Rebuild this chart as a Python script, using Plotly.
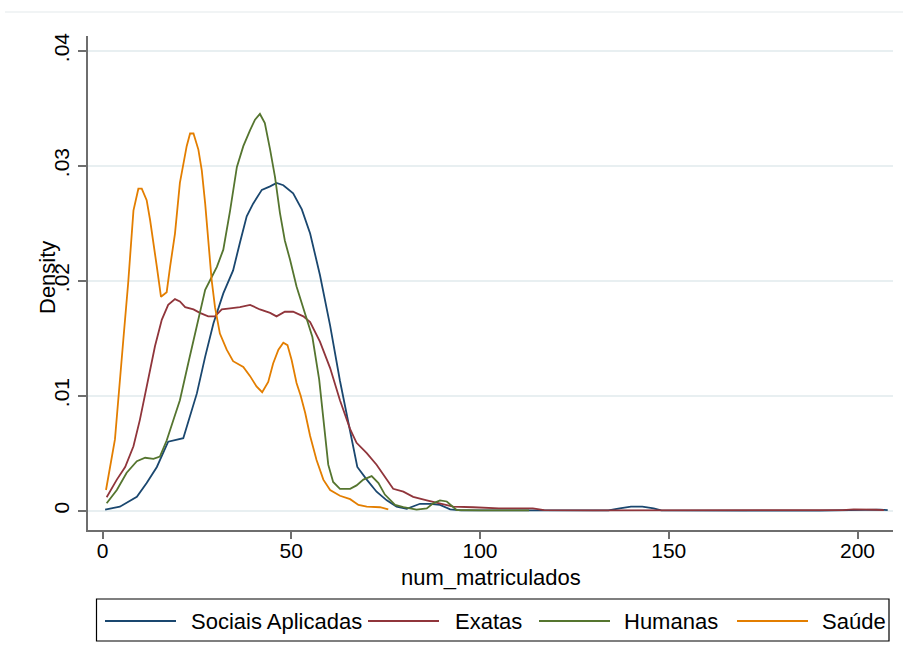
import plotly.graph_objects as go

# ---------------- data ----------------
series_names = ["Sociais Aplicadas", "Exatas", "Humanas", "Saúde"]
series_colors = ["#1a476f", "#90353b", "#55752f", "#e37e00"]

sociais_x = [0.7, 4.6, 9.1, 11.7, 14.4, 17.4, 21.4, 23.2, 25.0, 27.2, 29.4, 32.0, 34.6, 36.4,
             38.2, 39.9, 42.2, 44.4, 46.1, 47.9, 50.5, 52.8, 55.0, 57.6, 60.3, 62.9, 65.6, 67.5,
             70.0, 72.6, 75.3, 77.9, 80.6, 82.5, 84.1, 86.8, 89.4, 92.1, 95, 100, 110, 120, 130,
             134, 137, 140, 143, 146, 148, 155, 170, 190, 198, 200, 203, 206, 208]
sociais_y = [0.0001, 0.00035, 0.0012, 0.0024, 0.0038, 0.0060, 0.0063, 0.0082, 0.0102, 0.0134,
             0.0163, 0.0189, 0.0209, 0.0233, 0.0256, 0.0267, 0.0279, 0.0282, 0.0285, 0.0283,
             0.0276, 0.0262, 0.0241, 0.0205, 0.0161, 0.0113, 0.0070, 0.0038, 0.0027, 0.00165,
             0.0009, 0.00035, 0.00017, 0.0004, 0.0006, 0.0006, 0.0005, 0.00012, 0.00003, 0.00002,
             0.00002, 0.00001, 0.00001, 0.00002, 0.0002, 0.00035, 0.00035, 0.0002, 0.00003,
             0.00001, 0.00001, 0.00001, 0.00005, 0.0001, 0.00012, 0.0001, 0.00005]

exatas_x = [1.1, 3.8, 6.0, 8.2, 9.9, 11.7, 13.9, 15.7, 17.4, 19.2, 20.5, 21.9, 24.1, 25.8, 28.0,
            29.8, 31.6, 33.8, 36.4, 39.1, 41.7, 44.4, 46.1, 48.3, 50.5, 53.2, 55.0, 57.6, 60.3,
            62.9, 65.6, 67.3, 70.0, 72.6, 75.3, 77.0, 79.7, 82.3, 85.9, 89.4, 92.9, 98.2, 105,
            114, 117, 130, 150, 180, 196, 199, 202, 205, 207]
exatas_y = [0.00117, 0.0027, 0.0038, 0.0056, 0.0079, 0.0108, 0.0143, 0.0166, 0.0179, 0.0184,
            0.0182, 0.0177, 0.0175, 0.0172, 0.0169, 0.0169, 0.0175, 0.0176, 0.0177, 0.0179,
            0.0175, 0.0172, 0.0169, 0.0173, 0.0173, 0.0169, 0.0164, 0.0147, 0.0124, 0.0096,
            0.0071, 0.0059, 0.0050, 0.0040, 0.0027, 0.0019, 0.00165, 0.0012, 0.0009, 0.00064,
            0.00035, 0.0003, 0.0002, 0.0002, 0.00005, 0.00002, 0.00002, 0.00002, 0.00005,
            0.00012, 0.00012, 0.00008, 0.00005]

humanas_x = [1.1, 3.8, 6.4, 9.1, 11.3, 13.5, 15.2, 17.0, 18.8, 20.5, 22.7, 24.5, 25.8, 27.2,
             28.9, 30.3, 32.0, 33.8, 35.6, 37.3, 39.1, 40.4, 41.7, 43.0, 44.4, 45.7, 47.0, 48.3,
             49.7, 51.4, 53.6, 55.6, 57.4, 58.6, 59.8, 61.1, 62.9, 65.6, 67.3, 69.1, 71.3, 73.1,
             74.8, 77.5, 79.7, 83.2, 85.9, 87.6, 89.4, 91.2, 92.9, 93.8, 100, 110, 113]
humanas_y = [0.00064, 0.0018, 0.0033, 0.0043, 0.0046, 0.0045, 0.0047, 0.0061, 0.0079, 0.0096,
             0.0128, 0.0154, 0.0172, 0.0192, 0.0203, 0.0212, 0.0227, 0.0261, 0.0299, 0.0317,
             0.0331, 0.0340, 0.0345, 0.0337, 0.0314, 0.0290, 0.0259, 0.0235, 0.0218, 0.0195,
             0.0172, 0.0151, 0.0114, 0.0075, 0.0040, 0.0025, 0.0019, 0.0019, 0.0022, 0.0027,
             0.0030, 0.0024, 0.0014, 0.0005, 0.0003, 0.0001, 0.0002, 0.00064, 0.0009, 0.0008,
             0.00035, 0.00006, 0.00003, 0.00002, 0.00002]

saude_x = [0.93, 3.3, 5.5, 6.8, 8.2, 9.5, 10.4, 11.7, 12.6, 13.5, 14.4, 15.5, 17.0, 17.9, 19.2,
           20.5, 22.3, 23.2, 24.1, 25.4, 26.3, 27.2, 28.0, 28.9, 29.8, 31.1, 32.9, 34.6, 37.3,
           39.1, 40.8, 42.3, 43.9, 45.2, 46.6, 47.9, 49.0, 50.1, 51.4, 52.5, 53.7, 55.0, 56.7,
           58.5, 60.3, 62.9, 65.6, 67.8, 70.0, 73.5, 75.7]
saude_y = [0.0018, 0.0062, 0.0148, 0.0198, 0.0261, 0.0280, 0.0280, 0.0270, 0.0253, 0.0230,
           0.0212, 0.0186, 0.0190, 0.0212, 0.0241, 0.0285, 0.0317, 0.0328, 0.0328, 0.0314,
           0.0296, 0.0267, 0.0235, 0.0201, 0.0177, 0.0154, 0.0140, 0.0130, 0.0125, 0.0117,
           0.0108, 0.0103, 0.0112, 0.0128, 0.0140, 0.0146, 0.0144, 0.0131, 0.0111, 0.0100,
           0.0085, 0.0065, 0.0044, 0.0027, 0.0018, 0.0013, 0.0010, 0.0005, 0.00035, 0.0003,
           0.00012]

x_tickvals = [0, 50, 100, 150, 200]
x_ticktext = ["0", "50", "100", "150", "200"]
y_tickvals = [0, 0.01, 0.02, 0.03, 0.04]
y_ticktext = ["0", ".01", ".02", ".03", ".04"]
x_title = "num_matriculados"
y_title = "Density"

xs = [sociais_x, exatas_x, humanas_x, saude_x]
ys = [sociais_y, exatas_y, humanas_y, saude_y]

# ---------------- layout geometry (pixels) ----------------
W, H = 903, 662
L, R, T, B = 88, 893, 36, 530
FONT = "Liberation Sans, Arial, Helvetica, sans-serif"


def px2x(p):
    return (p - L) / (R - L)


def py2y(p):
    return (B - p) / (B - T)


fig = go.Figure()
for name, color, x, y in zip(series_names, series_colors, xs, ys):
    fig.add_trace(go.Scatter(x=x, y=y, mode="lines", name=name,
                             line=dict(color=color, width=1.8),
                             showlegend=False))

axis_color = "#6e6e6e"
fig.update_layout(
    width=W, height=H,
    margin=dict(l=L, r=W - R, t=T, b=H - B),
    paper_bgcolor="white", plot_bgcolor="white",
    font=dict(family=FONT, size=21, color="black"),
    xaxis=dict(range=[-3.84, 209.4], tickvals=x_tickvals, ticktext=x_ticktext,
               showgrid=False, zeroline=False, showline=True, linecolor=axis_color,
               linewidth=1.5, ticks="outside", ticklen=7, tickwidth=1.5,
               tickcolor=axis_color, tickfont=dict(size=21), ticklabelstandoff=-6),
    yaxis=dict(range=[-0.00168, 0.04128], tickvals=y_tickvals, ticktext=y_ticktext,
               showgrid=True, gridcolor="#e8eff1", gridwidth=1.5, zeroline=False,
               showline=True, linecolor=axis_color, linewidth=1.5, ticks="outside",
               ticklen=8, tickwidth=1.5, tickcolor=axis_color, tickangle=-90,
               tickfont=dict(size=21), ticklabelstandoff=1),
)

shapes = []
annotations = []
# thin top border line
shapes.append(dict(type="line", xref="paper", yref="paper", x0=px2x(5), x1=px2x(903),
                   y0=py2y(12), y1=py2y(12), line=dict(color="#e3e9eb", width=1)))
# axis titles
annotations.append(dict(text=x_title, xref="paper", yref="paper", x=px2x(490.5),
                        y=py2y(577), xanchor="center", yanchor="middle", showarrow=False,
                        font=dict(size=22)))
annotations.append(dict(text=y_title, xref="paper", yref="paper", x=px2x(47),
                        y=py2y(278), xanchor="center", yanchor="middle", showarrow=False,
                        textangle=-90, font=dict(size=22)))
# legend box
shapes.append(dict(type="rect", xref="paper", yref="paper", x0=px2x(96.5), x1=px2x(889),
                   y0=py2y(641), y1=py2y(599), line=dict(color="black", width=1.2),
                   fillcolor="white"))
leg_line_start = [105, 368, 539, 737]
leg_text_start = [189, 453, 622, 820]
leg_y = 621
for name, color, ls, ts in zip(series_names, series_colors, leg_line_start, leg_text_start):
    shapes.append(dict(type="line", xref="paper", yref="paper", x0=px2x(ls), x1=px2x(ls + 71),
                       y0=py2y(leg_y), y1=py2y(leg_y), line=dict(color=color, width=2)))
    annotations.append(dict(text=name, xref="paper", yref="paper", x=px2x(ts), y=py2y(leg_y),
                            xanchor="left", yanchor="middle", showarrow=False,
                            font=dict(size=22)))

fig.update_layout(shapes=shapes, annotations=annotations)
fig.write_html("out.html")
